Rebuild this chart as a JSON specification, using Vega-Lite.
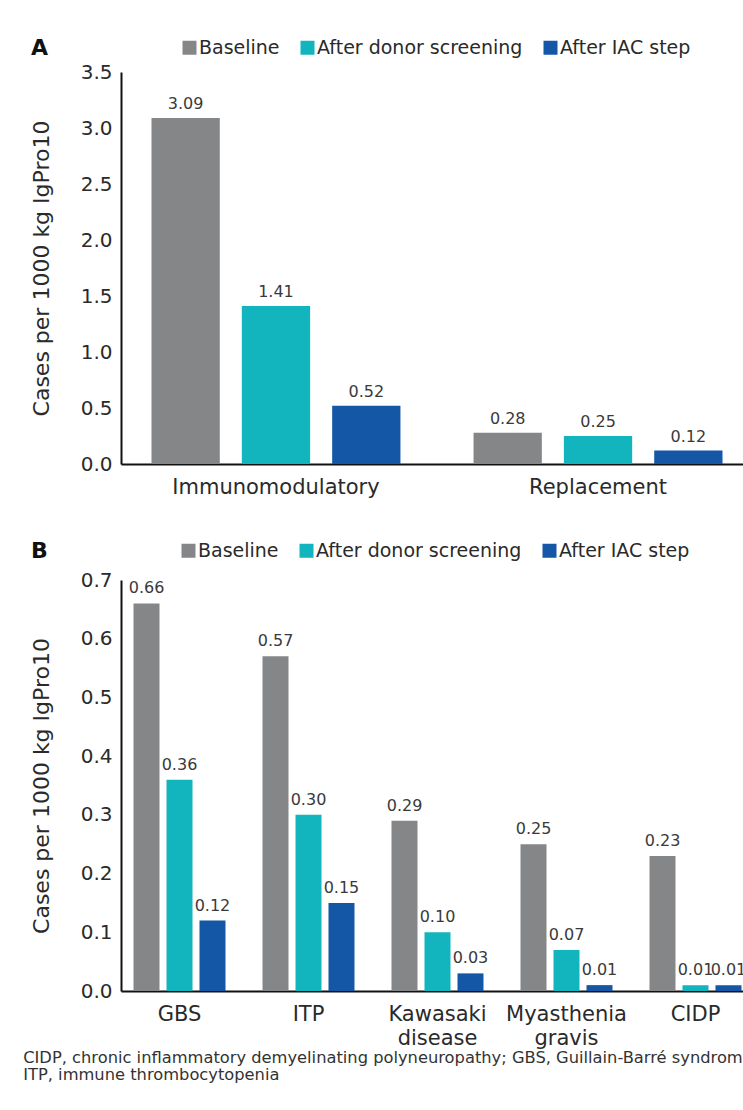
{
  "$schema": "https://vega.github.io/schema/vega-lite/v6.json",
  "background": "white",
  "padding": {"left": 23, "top": 38, "right": 0, "bottom": 0},
  "autosize": {"type": "pad"},
  "datasets": {
    "a": [
      {"indication": "Immunomodulatory", "stage": "Baseline", "cases": 3.09},
      {"indication": "Immunomodulatory", "stage": "After donor screening", "cases": 1.41},
      {"indication": "Immunomodulatory", "stage": "After IAC step", "cases": 0.52},
      {"indication": "Replacement", "stage": "Baseline", "cases": 0.28},
      {"indication": "Replacement", "stage": "After donor screening", "cases": 0.25},
      {"indication": "Replacement", "stage": "After IAC step", "cases": 0.12}
    ],
    "b": [
      {"indication": "GBS", "stage": "Baseline", "cases": 0.66},
      {"indication": "GBS", "stage": "After donor screening", "cases": 0.36},
      {"indication": "GBS", "stage": "After IAC step", "cases": 0.12},
      {"indication": "ITP", "stage": "Baseline", "cases": 0.57},
      {"indication": "ITP", "stage": "After donor screening", "cases": 0.30},
      {"indication": "ITP", "stage": "After IAC step", "cases": 0.15},
      {"indication": "Kawasaki|disease", "stage": "Baseline", "cases": 0.29},
      {"indication": "Kawasaki|disease", "stage": "After donor screening", "cases": 0.10},
      {"indication": "Kawasaki|disease", "stage": "After IAC step", "cases": 0.03},
      {"indication": "Myasthenia|gravis", "stage": "Baseline", "cases": 0.25},
      {"indication": "Myasthenia|gravis", "stage": "After donor screening", "cases": 0.07},
      {"indication": "Myasthenia|gravis", "stage": "After IAC step", "cases": 0.01},
      {"indication": "CIDP", "stage": "Baseline", "cases": 0.23},
      {"indication": "CIDP", "stage": "After donor screening", "cases": 0.01},
      {"indication": "CIDP", "stage": "After IAC step", "cases": 0.01}
    ]
  },
  "config": {
    "font": "DejaVu Sans",
    "view": {"stroke": null},
    "axis": {
      "grid": false,
      "ticks": false,
      "domainColor": "#111111",
      "domainWidth": 2,
      "labelColor": "#2a2a2a",
      "titleColor": "#2a2a2a",
      "titleFontWeight": "normal",
      "labelLimit": 400
    },
    "legend": {
      "orient": "none",
      "direction": "horizontal",
      "titleOrient": "left",
      "titleFontSize": 22,
      "titleFontWeight": "bold",
      "titleColor": "#111111",
      "titlePadding": 131,
      "symbolType": "square",
      "symbolSize": 196,
      "symbolStrokeWidth": 0,
      "labelFontSize": 19,
      "labelColor": "#2a2a2a",
      "labelOffset": 0,
      "labelLimit": 400,
      "columnPadding": 18,
      "padding": 0
    }
  },
  "title": {
    "text": ["CIDP, chronic inflammatory demyelinating polyneuropathy; GBS, Guillain-Barré syndrome;", "ITP, immune thrombocytopenia"],
    "orient": "bottom",
    "anchor": "start",
    "frame": "bounds",
    "font": "DejaVu Sans",
    "fontSize": 16.3,
    "fontWeight": "normal",
    "color": "#333333",
    "lineHeight": 17,
    "offset": 2,
    "dx": -7
  },
  "spacing": 116,
  "bounds": "flush",
  "resolve": {
    "scale": {"color": "independent", "x": "independent", "y": "independent", "xOffset": "independent"},
    "legend": {"color": "independent"}
  },
  "vconcat": [
    {
      "width": 632,
      "height": 392,
      "data": {"name": "a"},
      "encoding": {
        "x": {
          "field": "indication", "type": "nominal", "sort": null,
          "scale": {"paddingInner": 0.227, "paddingOuter": 0.0947},
          "axis": {"title": null, "labelAngle": 0, "labelFontSize": 21, "labelPadding": 12}
        },
        "xOffset": {
          "field": "stage", "type": "nominal",
          "sort": ["Baseline", "After donor screening", "After IAC step"],
          "scale": {"paddingInner": 0.244, "paddingOuter": 0}
        },
        "y": {
          "field": "cases", "type": "quantitative",
          "scale": {"domain": [0, 3.5], "nice": false},
          "axis": {"title": "Cases per 1000 kg IgPro10", "values": [0, 0.5, 1, 1.5, 2, 2.5, 3, 3.5], "format": ".1f", "labelFontSize": 20, "labelPadding": 9, "titleFontSize": 22, "titlePadding": 27}
        }
      },
      "layer": [
        {
          "mark": {"type": "bar"},
          "encoding": {
            "color": {
              "field": "stage", "type": "nominal",
              "sort": ["Baseline", "After donor screening", "After IAC step"],
              "scale": {"domain": ["Baseline", "After donor screening", "After IAC step"], "range": ["#858688", "#12b4bd", "#1357a6"]},
              "legend": {"title": "A", "legendX": -90, "legendY": -34}
            }
          }
        },
        {
          "mark": {"type": "text", "baseline": "alphabetic", "dy": -9, "fontSize": 16, "fontWeight": "normal", "color": "#3a3a3a"},
          "encoding": {"text": {"field": "cases", "type": "quantitative", "format": ".2f"}}
        }
      ]
    },
    {
      "width": 633,
      "height": 411,
      "data": {"name": "b"},
      "encoding": {
        "x": {
          "field": "indication", "type": "nominal", "sort": null,
          "scale": {"paddingInner": 0.287, "paddingOuter": 0.097},
          "axis": {"title": null, "labelAngle": 0, "labelFontSize": 21, "labelPadding": 12, "labelLineHeight": 24, "labelExpr": "split(datum.label, '|')"}
        },
        "xOffset": {
          "field": "stage", "type": "nominal",
          "sort": ["Baseline", "After donor screening", "After IAC step"],
          "scale": {"paddingInner": 0.212, "paddingOuter": 0}
        },
        "y": {
          "field": "cases", "type": "quantitative",
          "scale": {"domain": [0, 0.7], "nice": false},
          "axis": {"title": "Cases per 1000 kg IgPro10", "values": [0, 0.1, 0.2, 0.3, 0.4, 0.5, 0.6, 0.7], "format": ".1f", "labelFontSize": 20, "labelPadding": 9, "titleFontSize": 22, "titlePadding": 27}
        }
      },
      "layer": [
        {
          "mark": {"type": "bar"},
          "encoding": {
            "color": {
              "field": "stage", "type": "nominal",
              "sort": ["Baseline", "After donor screening", "After IAC step"],
              "scale": {"domain": ["Baseline", "After donor screening", "After IAC step"], "range": ["#858688", "#12b4bd", "#1357a6"]},
              "legend": {"title": "B", "legendX": -90, "legendY": -39}
            }
          }
        },
        {
          "mark": {"type": "text", "baseline": "alphabetic", "dy": -10, "fontSize": 16, "fontWeight": "normal", "color": "#3a3a3a"},
          "encoding": {"text": {"field": "cases", "type": "quantitative", "format": ".2f"}}
        }
      ]
    }
  ]
}
